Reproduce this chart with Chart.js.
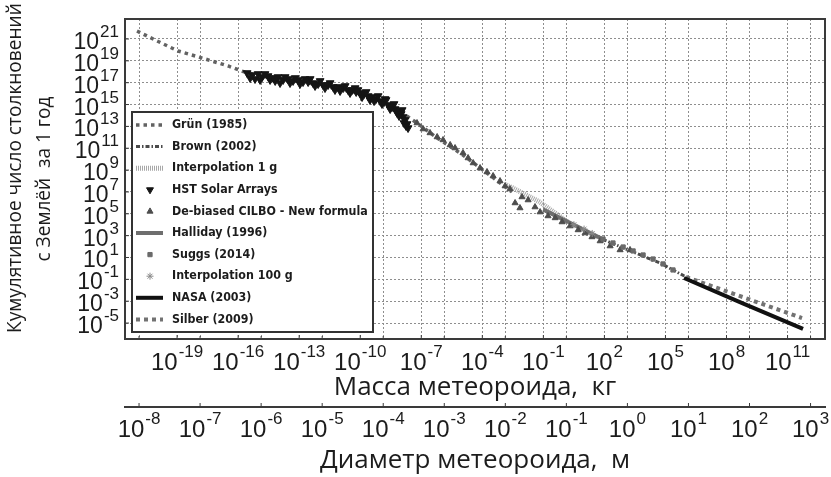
<!DOCTYPE html>
<html>
<head>
<meta charset="utf-8">
<script src="https://cdn.jsdelivr.net/npm/chart.js@4.4.1/dist/chart.umd.min.js"></script>
<style>
  html, body { margin: 0; padding: 0; background: #fff; }
  canvas { display: block; }
</style>
</head>
<body>
<canvas id="fluxChart" width="831" height="477"></canvas>
<script>
// tick exponents (powers of ten)
const massTickExp = [-19, -16, -13, -10, -7, -4, -1, 2, 5, 8, 11];
const diamTickExp = [-8, -7, -6, -5, -4, -3, -2, -1, 0, 1, 2, 3];
const countTickExp = [21, 19, 17, 15, 13, 11, 9, 7, 5, 3, 1, -1, -3, -5];

// axis limits, log10
const massRangeExp = [-21.56, 12.84];
const countRangeExp = [-6.46, 22.83];
const massAtDiamMinus8 = -20.87; // log10 kg of a 1e-8 m meteoroid

// series, all values are log10(mass kg) / log10(cumulative count)
const grunLogM = [-20.97, -19.98, -18.95, -17.62, -16.49, -15.56, -13.05, -10.11, -8.29, -7.21, -6.22, -4.95, -3.77, -2.54];
const grunLogN = [21.73, 20.82, 19.90, 19.17, 18.53, 17.89, 17.16, 16.06, 14.68, 13.31, 11.94, 10.38, 8.73, 7.00];

const brownLogM = [-1.01, 0.31, 1.64, 3.16, 4.73, 6.01];
const brownLogN = [5.35, 4.16, 2.88, 1.69, 0.50, -0.78];

const interp1gLogM = [-2.9, -2.5, -1.2, 0.2];
const interp1gLogN = [7.7, 7.36, 6.1, 4.25];

const hstLogM = [-15.56, -15.31, -15.17, -15.02, -14.82, -14.53, -14.43, -14.28, -14.04, -13.79, -13.55, -13.45, -13.30, -13.05,
  -12.81, -12.56, -12.46, -12.32, -12.07, -11.83, -11.58, -11.33, -11.24, -11.09, -10.84, -10.60, -10.40, -10.25, -10.20,
  -10.01, -9.81, -9.61, -9.52, -9.42, -9.22, -9.02, -8.83, -8.78, -8.63, -8.43, -8.29, -8.19, -8.14, -7.99, -7.89, -7.85,
  -7.80, -7.70, -7.65,
  -15.41, -14.92, -14.68, -14.18, -13.94, -13.69, -13.20, -12.96, -12.71, -12.22, -11.97, -11.73, -11.48, -10.99,
  -10.74, -10.50, -10.11, -9.91, -9.71, -9.32, -9.12, -8.93, -8.73, -8.53, -8.34, -8.09, -7.94, -7.75];
const hstLogN = [17.89, 17.70, 17.34, 17.80, 17.52, 17.61, 17.25, 17.43, 17.52, 17.25, 17.34, 16.97, 17.16, 17.25,
  17.06, 17.06, 17.34, 16.97, 16.88, 16.79, 16.79, 16.61, 16.33, 16.61, 16.51, 16.33, 16.33, 16.51, 16.15,
  16.06, 15.97, 15.78, 15.42, 15.69, 15.51, 15.32, 15.23, 15.51, 14.96, 14.78, 14.59, 14.23, 14.41, 14.14, 13.86, 13.31,
  13.59, 13.22, 12.85,
  17.43, 17.25, 17.80, 17.16, 16.97, 17.52, 17.43, 16.88, 17.34, 16.70, 17.16, 16.51, 16.97, 16.24,
  16.70, 16.06, 16.33, 15.69, 16.15, 15.32, 15.78, 15.05, 15.42, 14.59, 15.05, 13.95, 14.50, 13.04];

const cilboLogM = [-7.21, -6.91, -6.57, -6.22, -5.93, -5.58, -5.34, -4.95, -4.70, -4.45, -4.11, -3.77, -3.47, -3.13, -2.88,
  -2.64, -2.39, -2.15, -2.05, -1.75, -1.41, -1.16, -0.77, -0.42, -0.08, 0.31, 0.71, 1.05, 1.39, 1.79, 2.28, 2.77, 3.26];
const cilboLogN = [13.31, 12.76, 12.40, 12.03, 11.76, 11.30, 11.02, 10.57, 10.11, 9.65, 9.19, 8.83, 8.46, 8.00, 7.54,
  7.27, 5.99, 5.53, 6.54, 6.26, 5.62, 5.16, 4.80, 4.62, 4.25, 3.88, 3.52, 3.24, 2.88, 2.51, 2.05, 1.69, 1.69];

const hallidayLogM = [-1.0, 2.0];
const hallidayLogN = [5.4, 2.6];

const suggsLogM = [1.93, 2.42, 2.92, 3.41, 3.90, 4.39, 4.88, 5.37];
const suggsLogN = [2.69, 2.33, 1.96, 1.60, 1.23, 0.86, 0.41, -0.14];

const interp100gLogM = [0.5, 1.0, 1.4];
const interp100gLogN = [4.0, 3.6, 3.2];

const nasaLogM = [5.91, 8.8, 11.76];
const nasaLogN = [-0.88, -3.2, -5.54];

const silberLogM = [6.01, 8.9, 11.71];
const silberLogN = [-0.78, -2.69, -4.54];

const toPoints = (lm, ln) => lm.map((m, i) => ({ x: Math.pow(10, m), y: Math.pow(10, ln[i]) }));

const lineSet = (label, lm, ln, color, width, dash, order) => ({
  label: label, data: toPoints(lm, ln), showLine: true, borderColor: color, borderWidth: width,
  borderDash: dash, pointRadius: 0, order: order, fill: false
});
const markSet = (label, lm, ln, style, rot, radius, color, order) => ({
  label: label, data: toPoints(lm, ln), showLine: false, pointStyle: style, pointRotation: rot,
  pointRadius: radius, pointBackgroundColor: color, pointBorderColor: color, pointBorderWidth: 1, order: order
});

const datasets = [
  lineSet('Grün (1985)', grunLogM, grunLogN, '#626262', 3.5, [3.5, 4], 8),
  lineSet('Brown (2002)', brownLogM, brownLogN, '#4a4a4a', 3, [4, 2, 1.5, 2], 7),
  lineSet('Interpolation 1 g', interp1gLogM, interp1gLogN, '#a8a8a8', 5, [1, 1], 6),
  markSet('HST Solar Arrays', hstLogM, hstLogN, 'triangle', 180, 4.5, '#151515', 1),
  markSet('De-biased CILBO - New formula', cilboLogM, cilboLogN, 'triangle', 0, 3.5, '#4d4d4d', 4),
  lineSet('Halliday (1996)', hallidayLogM, hallidayLogN, '#6e6e6e', 4, [], 5),
  markSet('Suggs (2014)', suggsLogM, suggsLogN, 'rect', 0, 3, '#6a6a6a', 3),
  markSet('Interpolation 100 g', interp100gLogM, interp100gLogN, 'star', 0, 3.5, '#8a8a8a', 3),
  lineSet('NASA (2003)', nasaLogM, nasaLogN, '#111111', 4, [], 0),
  lineSet('Silber (2009)', silberLogM, silberLogN, '#727272', 4, [4, 4], 2)
];

const gridColor = '#8e8e8e';
const frameColor = '#3a3a3a';
const textColor = '#1c1c1c';

function drawPow(ctx, exp, x, baseY, baseFont, supFont, rise, align) {
  const base = '10';
  const sup = String(exp);
  ctx.font = baseFont;
  const wb = ctx.measureText(base).width;
  ctx.font = supFont;
  const ws = ctx.measureText(sup).width;
  const total = wb + 1 + ws;
  const left = align === 'right' ? x - total : x - total / 2;
  ctx.textAlign = 'left';
  ctx.textBaseline = 'alphabetic';
  ctx.font = baseFont;
  ctx.fillText(base, left, baseY);
  ctx.font = supFont;
  ctx.fillText(sup, left + wb + 1, baseY - rise);
}

function drawMarker(ctx, ds, x, y) {
  ctx.fillStyle = ds.pointBackgroundColor;
  ctx.strokeStyle = ds.pointBorderColor;
  ctx.lineWidth = 1;
  const r = Math.min(ds.pointRadius, 4);
  if (Chart.helpers && Chart.helpers.drawPoint) {
    Chart.helpers.drawPoint(ctx, { pointStyle: ds.pointStyle, rotation: ds.pointRotation, radius: r, borderWidth: 1 }, x, y);
  } else {
    ctx.fillRect(x - 3, y - 3, 6, 6);
  }
}

const decorPlugin = {
  id: 'decor',
  afterDatasetsDraw(chart) {
    const ctx = chart.ctx;
    const ca = chart.chartArea;
    // legend box, lower left inside plot
    const bw = 241, bh = 220;
    const bx = ca.left + 7, by = ca.bottom - 7 - bh;
    ctx.save();
    ctx.fillStyle = '#fff';
    ctx.fillRect(bx, by, bw, bh);
    ctx.strokeStyle = '#333';
    ctx.lineWidth = 2;
    ctx.strokeRect(bx, by, bw, bh);
    // fit the longest label into the box
    const fam = '"DejaVu Sans Condensed", "DejaVu Sans", sans-serif';
    ctx.font = 'bold 12.5px ' + fam;
    const longest = Math.max(...chart.data.datasets.map(d => ctx.measureText(d.label).width));
    const fs = Math.min(12.5, 12.5 * 196 / longest);
    chart.data.datasets.forEach((ds, i) => {
      const cy = by + 13 + i * 21.6;
      if (ds.showLine) {
        ctx.save();
        ctx.strokeStyle = ds.borderColor;
        ctx.lineWidth = ds.borderWidth;
        ctx.setLineDash(ds.borderDash || []);
        ctx.beginPath();
        ctx.moveTo(bx + 4, cy);
        ctx.lineTo(bx + 31, cy);
        ctx.stroke();
        ctx.restore();
      } else {
        drawMarker(ctx, ds, bx + 18, cy);
      }
      ctx.fillStyle = textColor;
      ctx.font = 'bold ' + fs.toFixed(2) + 'px ' + fam;
      ctx.textAlign = 'left';
      ctx.textBaseline = 'middle';
      ctx.fillText(ds.label, bx + 40, cy);
    });
    ctx.restore();
  },
  afterDraw(chart) {
    const ctx = chart.ctx;
    const ca = chart.chartArea;
    const xs = chart.scales.x, ds = chart.scales.d, ys = chart.scales.y;
    ctx.save();
    // frame
    ctx.strokeStyle = frameColor;
    ctx.lineWidth = 2;
    ctx.strokeRect(ca.left, ca.top, ca.right - ca.left, ca.bottom - ca.top);
    // inward ticks
    ctx.lineWidth = 1;
    ctx.beginPath();
    xs.ticks.forEach(t => { const px = xs.getPixelForValue(t.value); ctx.moveTo(px, ca.bottom); ctx.lineTo(px, ca.bottom - 4); });
    ds.ticks.forEach(t => { const px = ds.getPixelForValue(t.value); ctx.moveTo(px, ca.bottom); ctx.lineTo(px, ca.bottom - 3); ctx.moveTo(px, ds.top); ctx.lineTo(px, ds.top - 4); });
    ys.ticks.forEach(t => { const py = ys.getPixelForValue(t.value); ctx.moveTo(ca.left, py); ctx.lineTo(ca.left + 4, py); });
    ctx.stroke();

    ctx.fillStyle = textColor;
    const nf = '"Liberation Sans Narrow", "Liberation Sans", sans-serif';
    // mass labels
    xs.ticks.forEach(t => {
      drawPow(ctx, Math.round(Math.log10(t.value)), xs.getPixelForValue(t.value), xs.top + 31, '24px ' + nf, '17px ' + nf, 13, 'center');
    });
    // diameter labels
    ds.ticks.forEach(t => {
      drawPow(ctx, Math.round(Math.log10(t.value)), ds.getPixelForValue(t.value), ds.top + 30, '24px ' + nf, '17px ' + nf, 13, 'center');
    });
    // count labels
    ys.ticks.forEach(t => {
      drawPow(ctx, Math.round(Math.log10(t.value)), ys.right - 6, ys.getPixelForValue(t.value) + 10, '23px ' + nf, '17px ' + nf, 12, 'right');
    });

    // axis titles
    const cx = (ca.left + ca.right) / 2;
    ctx.font = '26px "Open Sans"';
    ctx.textAlign = 'center';
    ctx.textBaseline = 'alphabetic';
    ctx.fillText('Масса метеороида,  кг', cx, xs.top + 56);
    ctx.fillText('Диаметр метеороида,  м', cx, ds.top + 61);

    const yTitle1 = 'Кумулятивное число столкновений';
    const yTitle2 = 'с Землёй  за 1 год';
    ctx.font = '20px "Open Sans"';
    const size = 20 * 330 / ctx.measureText(yTitle1).width;
    ctx.font = size.toFixed(2) + 'px "Open Sans"';
    ctx.save();
    ctx.translate(21, 333);
    ctx.rotate(-Math.PI / 2);
    ctx.textAlign = 'left';
    ctx.fillText(yTitle1, 0, 0);
    ctx.restore();
    ctx.save();
    ctx.translate(50, (ca.top + ca.bottom) / 2);
    ctx.rotate(-Math.PI / 2);
    ctx.textAlign = 'center';
    ctx.fillText(yTitle2, 0, 0);
    ctx.restore();
    ctx.restore();
  }
};

const gridOpts = { color: gridColor, lineWidth: 1, drawTicks: false };
const borderOpts = { display: true, color: frameColor, width: 2, dash: [2, 2] };

new Chart(document.getElementById('fluxChart'), {
  type: 'scatter',
  data: { datasets: datasets },
  options: {
    responsive: false,
    animation: false,
    layout: { padding: { top: 19, right: 6, left: 0, bottom: 0 } },
    plugins: { legend: { display: false }, tooltip: { enabled: false } },
    scales: {
      x: {
        type: 'logarithmic', position: 'bottom', axis: 'x', weight: 0,
        min: Math.pow(10, massRangeExp[0]), max: Math.pow(10, massRangeExp[1]),
        afterBuildTicks: s => { s.ticks = massTickExp.map(e => ({ value: Math.pow(10, e) })); },
        afterFit: s => { s.height = 68; },
        ticks: { display: false },
        grid: gridOpts,
        border: borderOpts
      },
      d: {
        type: 'logarithmic', position: 'bottom', axis: 'x', weight: 1,
        min: Math.pow(10, -8 + (massRangeExp[0] - massAtDiamMinus8) / 3),
        max: Math.pow(10, -8 + (massRangeExp[1] - massAtDiamMinus8) / 3),
        afterBuildTicks: s => { s.ticks = diamTickExp.map(e => ({ value: Math.pow(10, e) })); },
        afterFit: s => { s.height = 70; },
        ticks: { display: false },
        grid: gridOpts,
        border: borderOpts
      },
      y: {
        type: 'logarithmic', position: 'left',
        min: Math.pow(10, countRangeExp[0]), max: Math.pow(10, countRangeExp[1]),
        afterBuildTicks: s => { s.ticks = countTickExp.map(e => ({ value: Math.pow(10, e) })); },
        afterFit: s => { s.width = 125; },
        ticks: { display: false },
        grid: gridOpts,
        border: borderOpts
      }
    }
  },
  plugins: [decorPlugin]
});
</script>
</body>
</html>
